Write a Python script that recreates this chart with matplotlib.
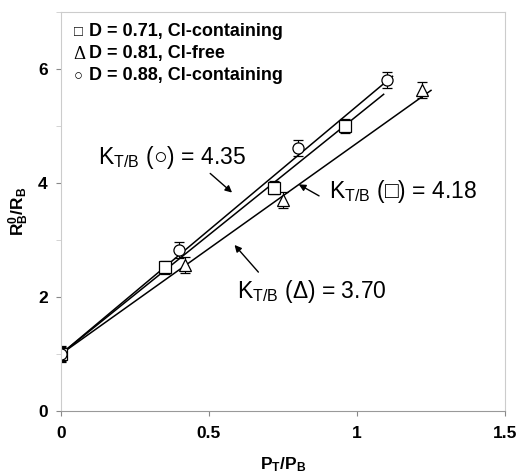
import numpy as np
import matplotlib
matplotlib.use("Agg")
import matplotlib.pyplot as plt

plt.rcParams['font.family'] = ['Liberation Sans', 'DejaVu Sans']
plt.rcParams['mathtext.fontset'] = 'custom'
plt.rcParams['mathtext.rm'] = 'Liberation Sans'
plt.rcParams['mathtext.bf'] = 'Liberation Sans:bold'
plt.rcParams['mathtext.it'] = 'Liberation Sans:italic'

# data
sq_x = [0, 0.35, 0.72, 0.96]
sq_y = [1.0, 2.52, 3.92, 5.00]
sq_err = [0.12, 0.12, 0.12, 0.12]

tri_x = [0.42, 0.75, 1.22]
tri_y = [2.56, 3.70, 5.63]
tri_err = [0.14, 0.14, 0.14]

circ_x = [0, 0.40, 0.80, 1.10]
circ_y = [1.0, 2.83, 4.62, 5.81]
circ_err = [0.14, 0.14, 0.14, 0.14]

# fitted slopes (intercept 1) and how far each fit line runs
k_sq, k_tri, k_circ = 4.18, 3.70, 4.35
end_sq, end_tri, end_circ = 1.09, 1.25, 1.12

legend_syms = ["\u25a1", "\u0394", "\u25cb"]
legend_labels = ["D = 0.71, Cl-containing",
                 "D = 0.81, Cl-free",
                 "D = 0.88, Cl-containing"]

fig = plt.figure(figsize=(5.18, 4.75), dpi=100)
ax = fig.add_axes([61/518, 64/475, 444/518, 399/475])

for k, end in [(k_circ, end_circ), (k_sq, end_sq), (k_tri, end_tri)]:
    xx = np.array([0, end])
    ax.plot(xx, 1 + k*xx, color='black', lw=1.1)

common = dict(linestyle='none', mfc='white', mec='black', mew=0.9,
              ecolor='black', elinewidth=0.8, capsize=3.5, capthick=0.8, ms=8)
ax.errorbar(sq_x, sq_y, yerr=sq_err, marker='s', **common)
ax.errorbar(tri_x, tri_y, yerr=tri_err, marker='^', **common)
ax.errorbar(circ_x, circ_y, yerr=circ_err, marker='o', **common)

ax.set_xlim(0, 1.5)
ax.set_ylim(0, 7)
ax.set_xticks([0, 0.5, 1, 1.5])
ax.set_xticklabels(['0', '0.5', '1', '1.5'])
ax.set_yticks([0, 2, 4, 6])
ax.set_yticks([1, 3, 5, 7], minor=True)
ax.tick_params(axis='both', which='major', labelsize=12.5, colors='#888888',
               labelcolor='black', length=3.5, direction='out')
ax.tick_params(axis='y', which='minor', length=3.5, colors='#cccccc')
ax.tick_params(axis='y', pad=6)
ax.tick_params(axis='x', pad=7.5)
for lbl in ax.get_xticklabels() + ax.get_yticklabels():
    lbl.set_fontweight('bold')
for s in ['top', 'right', 'left']:
    ax.spines[s].set_color('#cccccc')
ax.spines['bottom'].set_color('#999999')

ax.set_xlabel(r'P$_\mathbf{T}$/P$_\mathbf{B}$', fontsize=12.5, fontweight='bold', labelpad=10)
ax.set_ylabel(r'R$_\mathbf{B}^\mathbf{0}$/R$_\mathbf{B}$', fontsize=12.5, fontweight='bold', labelpad=5)

sym_sizes = [10.5, 13.5, 10.5]
for i, (sym, lab) in enumerate(zip(legend_syms, legend_labels)):
    yy = 0.952 - i*0.056
    ax.text(0.028, yy - 0.003, sym, transform=ax.transAxes, fontsize=sym_sizes[i],
            family=['Liberation Serif', 'DejaVu Sans'], va='center', ha='left')
    ax.text(0.062, yy, lab, transform=ax.transAxes, fontsize=13,
            fontweight='bold', va='center', ha='left')

arrow = dict(arrowstyle='-|>', color='black', lw=1.0, mutation_scale=10)
ax.text(0.125, 4.45, 'K$_{\\mathregular{T/B}}$ (\u25cb) = 4.35', fontsize=16.5,
        va='center', ha='left')
ax.annotate('', xy=(0.585, 3.8), xytext=(0.497, 4.2), arrowprops=arrow)
ax.text(0.905, 3.85, 'K$_{\\mathregular{T/B}}$ (\u25a1) = 4.18', fontsize=16.5,
        va='center', ha='left')
ax.annotate('', xy=(0.795, 4.0), xytext=(0.88, 3.75), arrowprops=arrow)
ax.text(0.595, 2.1, 'K$_{\\mathregular{T/B}}$ (\u0394) = 3.70', fontsize=16.5,
        va='center', ha='left')
ax.annotate('', xy=(0.58, 2.95), xytext=(0.673, 2.4), arrowprops=arrow)

fig.savefig('out.png', dpi=100)
